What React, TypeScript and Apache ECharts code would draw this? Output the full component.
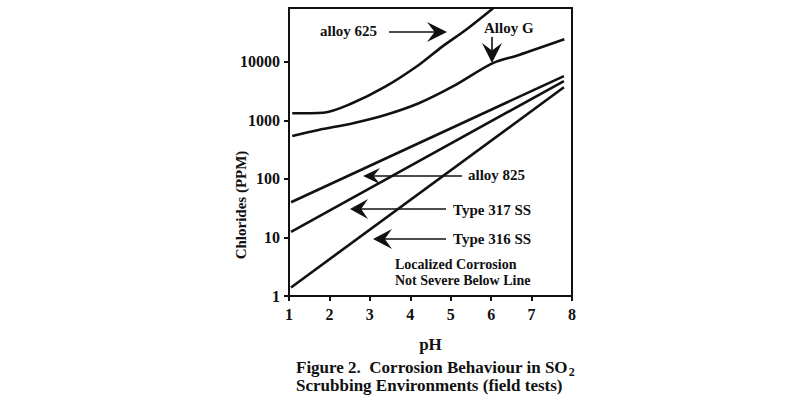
import React, { useEffect, useRef } from "react";
import * as echarts from "echarts";

// pH readings (x) and chloride levels in ppm (y) along each corrosion boundary
const alloy625PH = [1.08, 1.85, 2.56, 3.38, 4.21, 4.79, 5.37, 6.05];
const alloy625PPM = [1330, 1360, 1970, 3780, 8890, 18300, 35200, 83000];

const alloyGPH = [1.08, 1.73, 2.56, 3.38, 4.21, 5.04, 6.03, 6.69, 7.81];
const alloyGPPM = [543, 690, 890, 1240, 1970, 3780, 9500, 13200, 24400];

const alloy825PH = [1.05, 7.8];
const alloy825PPM = [40, 5750];

const type317PH = [1.05, 7.8];
const type317PPM = [12.5, 4730];

const type316PH = [1.05, 7.8];
const type316PPM = [1.4, 3700];

// y axis is drawn in log10 units; labels show the ppm value
const yTickExponents = [0, 1, 2, 3, 4];
const yTopExponent = 4.923;
const xTicks = [1, 2, 3, 4, 5, 6, 7, 8];

const FONT = "'Liberation Serif', 'Times New Roman', serif";
const INK = "#111";

const toPoints = (xs: number[], ys: number[]) =>
  xs.map((x, i) => [x, Math.log10(ys[i])]);

function arrowRight(tx: number, ty: number, len: number, half: number) {
  return [
    [tx, ty],
    [tx - len, ty - half],
    [tx - len * 0.62, ty],
    [tx - len, ty + half],
  ];
}
function arrowLeft(tx: number, ty: number, len: number, half: number) {
  return [
    [tx, ty],
    [tx + len, ty - half],
    [tx + len * 0.62, ty],
    [tx + len, ty + half],
  ];
}
function arrowDown(tx: number, ty: number, len: number, half: number) {
  return [
    [tx, ty],
    [tx - half, ty - len],
    [tx, ty - len * 0.62],
    [tx + half, ty - len],
  ];
}

const labelText = (text: string, x: number, y: number, size = 15) => ({
  type: "text",
  left: x,
  top: y - size / 2 - 1,
  style: {
    text,
    fill: INK,
    font: `bold ${size}px ${FONT}`,
  },
});

const shaft = (x1: number, y1: number, x2: number, y2: number) => ({
  type: "line",
  shape: { x1, y1, x2, y2 },
  style: { stroke: INK, lineWidth: 1.6 },
});

const head = (points: number[][]) => ({
  type: "polygon",
  shape: { points },
  style: { fill: INK },
});

export default function App() {
  const ref = useRef<HTMLDivElement>(null);

  useEffect(() => {
    if (!ref.current) return;
    const chart = echarts.init(ref.current, null, { renderer: "svg" });

    const curve = (name: string, xs: number[], ys: number[], smooth: number | boolean) => ({
      name,
      type: "line",
      data: toPoints(xs, ys),
      smooth,
      showSymbol: false,
      symbol: "none",
      lineStyle: { color: INK, width: 2.6 },
      clip: true,
    });

    chart.setOption({
      animation: false,
      backgroundColor: "#fff",
      grid: {
        left: 289,
        right: 228,
        top: 8,
        bottom: 104,
        show: true,
        borderColor: INK,
        borderWidth: 2,
      },
      xAxis: {
        type: "value",
        min: 1,
        max: 8,
        interval: 1,
        name: "pH",
        nameLocation: "middle",
        nameGap: 40,
        nameTextStyle: { color: INK, fontFamily: FONT, fontWeight: "bold", fontSize: 17 },
        axisLine: { show: true, lineStyle: { color: INK, width: 2 } },
        axisTick: { show: true, inside: false, length: 5, lineStyle: { color: INK, width: 2 } },
        axisLabel: {
          color: INK,
          fontFamily: FONT,
          fontWeight: "bold",
          fontSize: 16,
          margin: 10,
          customValues: xTicks,
        },
        splitLine: { show: false },
      },
      yAxis: {
        type: "value",
        min: 0,
        max: yTopExponent,
        axisLine: { show: true, lineStyle: { color: INK, width: 2 } },
        axisTick: {
          show: true,
          inside: false,
          length: 5,
          lineStyle: { color: INK, width: 2 },
          customValues: yTickExponents,
        },
        axisLabel: {
          color: INK,
          fontFamily: FONT,
          fontWeight: "bold",
          fontSize: 16,
          margin: 9,
          customValues: yTickExponents,
          formatter: (v: number) => String(Math.round(Math.pow(10, v))),
        },
        splitLine: { show: false },
      },
      series: [
        curve("alloy 625", alloy625PH, alloy625PPM, 0.3),
        curve("Alloy G", alloyGPH, alloyGPPM, 0.3),
        curve("alloy 825", alloy825PH, alloy825PPM, false),
        curve("Type 317 SS", type317PH, type317PPM, false),
        curve("Type 316 SS", type316PH, type316PPM, false),
      ],
      graphic: [
        // y axis title, set below the axis midpoint
        {
          type: "text",
          x: 241,
          y: 205,
          rotation: Math.PI / 2,
          style: {
            text: "Chlorides (PPM)",
            fill: INK,
            font: `bold 15px ${FONT}`,
            align: "center",
            verticalAlign: "middle",
          },
        },

        // callouts
        labelText("alloy 625", 320, 32),
        shaft(389, 32, 435, 32),
        head(arrowRight(447, 32, 20, 10)),

        labelText("Alloy G", 484, 29),
        shaft(492, 37, 492, 52),
        head(arrowDown(492, 63, 20, 10)),

        labelText("alloy 825", 468, 176),
        shaft(462, 176, 372, 176),
        head(arrowLeft(363, 176, 17, 8)),

        labelText("Type 317 SS", 453, 211),
        shaft(446, 209, 360, 209),
        head(arrowLeft(350, 209, 18, 10)),

        labelText("Type 316 SS", 453, 240),
        shaft(446, 239, 383, 239),
        head(arrowLeft(373, 239, 19, 10)),

        labelText("Localized Corrosion", 395, 265, 14),
        labelText("Not Severe Below Line", 395, 281, 14),

        // figure caption
        {
          type: "text",
          left: 296,
          top: 359,
          style: {
            text: "Figure 2.  Corrosion Behaviour in SO{sub|2}",
            fill: INK,
            font: `bold 17px ${FONT}`,
            rich: {
              sub: {
                fontFamily: FONT,
                fontWeight: "bold",
                fontSize: 12,
                fill: INK,
                padding: [9, 0, 0, 1],
              },
            },
          },
        },
        {
          type: "text",
          left: 296,
          top: 377,
          style: {
            text: "Scrubbing Environments (field tests)",
            fill: INK,
            font: `bold 17px ${FONT}`,
          },
        },
      ],
    });

    return () => chart.dispose();
  }, []);

  return (
    <div
      ref={ref}
      style={{ position: "fixed", left: 0, top: 0, width: 800, height: 400 }}
    />
  );
}
